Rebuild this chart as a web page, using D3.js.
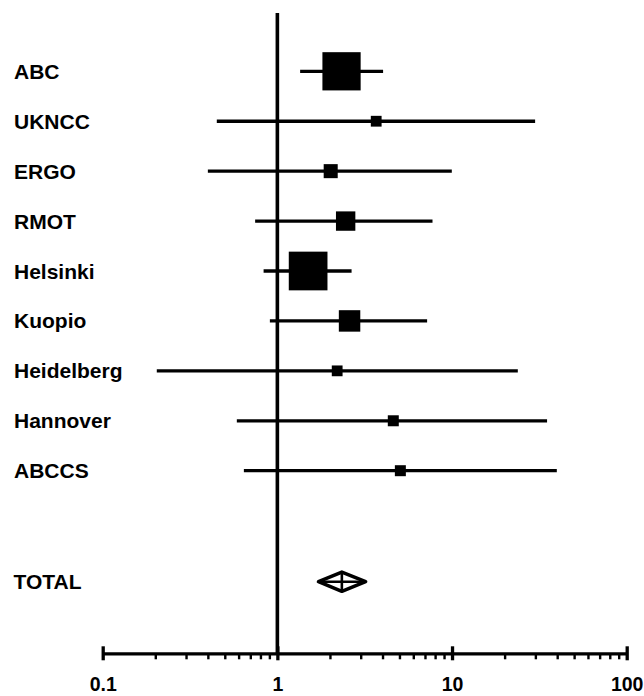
<!DOCTYPE html>
<html>
<head>
<meta charset="utf-8">
<script src="https://cdn.jsdelivr.net/npm/d3@7"></script>
<style>
  body { margin: 0; background: #fff; }
  svg { display: block; font-family: "Liberation Sans", Arial, sans-serif; font-weight: bold; }
</style>
</head>
<body>
<svg width="644" height="696"></svg>
<script>
// study data (odds ratio, 95% CI, weight in %)
const studies = ['ABC', 'UKNCC', 'ERGO', 'RMOT', 'Helsinki', 'Kuopio', 'Heidelberg', 'Hannover', 'ABCCS'];
const estimates = [2.33, 3.68, 2.02, 2.46, 1.50, 2.59, 2.20, 4.61, 5.06];
const lower = [1.35, 0.45, 0.40, 0.746, 0.834, 0.906, 0.204, 0.586, 0.643];
const upper = [4.03, 29.9, 9.97, 7.73, 2.66, 7.2, 23.8, 35.0, 39.8];
const weights = [32.7, 2.6, 4.4, 8.4, 33.5, 10.3, 2.6, 2.7, 2.7];

const totalLabel = 'TOTAL';
const totalEstimate = 2.34;
const totalLower = 1.72;
const totalUpper = 3.2;

const majorTicks = [0.1, 1, 10, 100];
const tickLabels = ['0.1', '1', '10', '100'];

const svg = d3.select('svg');

const axisY = 653.3;
const x = d3.scaleLog().domain([0.1, 100]).range([102.7, 626.7]);
const y = d3.scalePoint().domain(studies).range([71.3, 470.7]);
const totalY = 581.7;
const boxSize = d3.scaleSqrt().domain([0, 33.5]).range([0, 38.7]);

const data = studies.map((s, i) => ({
    name: s, est: estimates[i], lo: lower[i], hi: upper[i], w: weights[i]
}));

// reference line at 1
svg.append('line')
    .attr('x1', x(1)).attr('x2', x(1))
    .attr('y1', 13).attr('y2', axisY)
    .attr('stroke', '#000').attr('stroke-width', 3.6);

// labels
svg.selectAll('text.study').data(data)
    .enter().append('text')
    .attr('class', 'study')
    .attr('x', 14)
    .attr('y', d => y(d.name) + 7.5)
    .attr('font-size', 21)
    .text(d => d.name);

svg.append('text')
    .attr('x', 13.5)
    .attr('y', totalY + 7.7)
    .attr('font-size', 21)
    .text(totalLabel);

// confidence intervals
svg.selectAll('line.ci').data(data)
    .enter().append('line')
    .attr('class', 'ci')
    .attr('x1', d => x(d.lo)).attr('x2', d => x(d.hi))
    .attr('y1', d => y(d.name)).attr('y2', d => y(d.name))
    .attr('stroke', '#000').attr('stroke-width', 3.3);

// weighted boxes
svg.selectAll('rect.box').data(data)
    .enter().append('rect')
    .attr('class', 'box')
    .attr('x', d => x(d.est) - boxSize(d.w) / 2)
    .attr('y', d => y(d.name) - boxSize(d.w) / 2)
    .attr('width', d => boxSize(d.w))
    .attr('height', d => boxSize(d.w))
    .attr('fill', '#000');

// pooled diamond
const dh = 9.6;
const dg = svg.append('g');
dg.append('path')
    .attr('d', `M${x(totalLower)},${totalY}L${x(totalEstimate)},${totalY - dh}L${x(totalUpper)},${totalY}L${x(totalEstimate)},${totalY + dh}Z`)
    .attr('fill', '#fff').attr('stroke', '#000').attr('stroke-width', 3.6)
    .attr('stroke-linejoin', 'round');
dg.append('line')
    .attr('x1', x(totalLower)).attr('x2', x(totalUpper))
    .attr('y1', totalY).attr('y2', totalY)
    .attr('stroke', '#000').attr('stroke-width', 2.6);
dg.append('line')
    .attr('x1', x(totalEstimate)).attr('x2', x(totalEstimate))
    .attr('y1', totalY - dh).attr('y2', totalY + dh)
    .attr('stroke', '#000').attr('stroke-width', 2.6);

// x axis: minor ticks
const minorTicks = [];
[0.1, 1, 10].forEach(b => { for (let k = 2; k <= 9; k++) minorTicks.push(b * k); });

const minorAxis = svg.append('g')
    .attr('transform', `translate(0,${axisY})`)
    .call(d3.axisBottom(x).tickValues(minorTicks).tickSize(6).tickSizeOuter(0).tickFormat(''));
minorAxis.select('.domain').attr('stroke', '#000').attr('stroke-width', 3.3);
minorAxis.selectAll('.tick line').attr('stroke', '#000').attr('stroke-width', 2.4);

const majorAxis = svg.append('g')
    .attr('transform', `translate(0,${axisY})`)
    .call(d3.axisBottom(x).tickValues(majorTicks).tickSize(7).tickSizeOuter(0)
        .tickFormat((d, i) => tickLabels[i]));
majorAxis.select('.domain').remove();
majorAxis.selectAll('.tick line')
    .attr('y1', -7).attr('y2', 7)
    .attr('stroke', '#000').attr('stroke-width', 3.3);
majorAxis.selectAll('.tick text')
    .attr('y', 37.5).attr('dy', 0)
    .attr('font-size', 19.5)
    .attr('font-family', '"Liberation Sans", Arial, sans-serif')
    .attr('font-weight', 'bold')
    .attr('fill', '#000');
</script>
</body>
</html>
